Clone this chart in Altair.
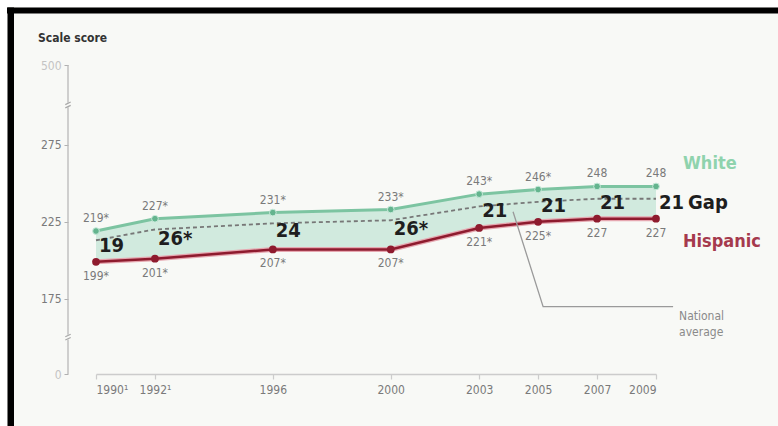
import altair as alt
import pandas as pd

# NAEP grade 4 mathematics: average scale scores by group
years = [1990, 1992, 1996, 2000, 2003, 2005, 2007, 2009]
white = [219, 227, 231, 233, 243, 246, 248, 248]
hispanic = [199, 201, 207, 207, 221, 225, 227, 227]
national = [213, 220, 224, 226, 235, 238, 240, 240]
gap = [19, 26, 24, 26, 21, 21, 21, 21]
gap_flag = ["", "*", "", "*", "", "", "", ""]
white_flag = ["*", "*", "*", "*", "*", "*", "", ""]
hisp_flag = ["*", "*", "*", "*", "*", "*", "", ""]

year_labels = ["1990¹", "1992¹", "1996", "2000", "2003", "2005", "2007", "2009"]

# broken score axis: 0 ... 175-275 ... 500
y_ticks = [126, 175, 225, 275, 327]
y_tick_labels = ["0", "175", "225", "275", "500"]
y_segments_lo = [126, 151.5, 302.5]
y_segments_hi = [148.5, 299.5, 327]
y_breaks = [150, 301]

# leader line for the "National average" note
callout_years = [2004.15, 2005.17, 2009.58]
callout_values = [231.5, 169.8, 169.8]

FONT = "DejaVu Sans Condensed, Liberation Sans Narrow, DejaVu Sans, sans-serif"
BG = "#f8f9f6"
TEAL = "#7cc4a1"
TEAL_DOT = "#64b48e"
RED = "#8e1b2e"
PINK = "#e6a7b0"
GREY = "#7a7a7a"

W, H = 560, 309

df = pd.DataFrame({
    "year": years,
    "white": white,
    "hispanic": hispanic,
    "national": national,
    "mid": [(a + b) / 2 for a, b in zip(white, hispanic)],
    "gap_label": [f"{g}{f}" for g, f in zip(gap, gap_flag)],
    "white_label": [f"{v}{f}" for v, f in zip(white, white_flag)],
    "hisp_label": [f"{v}{f}" for v, f in zip(hispanic, hisp_flag)],
})


def ternary(values, labels, fallback):
    expr = fallback
    for v, lab in reversed(list(zip(values, labels))):
        expr = f"datum.value == {v} ? '{lab}' : ({expr})"
    return expr


x_scale = alt.Scale(domain=[1990, 2009], nice=False, zero=False)
y_scale = alt.Scale(domain=[126, 327], nice=False, zero=False)

x_axis = alt.Axis(
    values=years,
    labelExpr=ternary(years, year_labels, "''"),
    domainColor="#cccccc", domainWidth=1.5,
    tickColor="#cccccc", tickSize=5, tickWidth=1.2,
    labelColor=GREY, labelFont=FONT, labelFontSize=12, labelPadding=5,
    grid=False, title=None,
)
y_axis = alt.Axis(
    values=y_ticks,
    labelExpr=ternary(y_ticks, y_tick_labels, "''"),
    domain=False, offset=28,
    tickColor="#b0b0b0", tickSize=4,
    labelColor=alt.condition("datum.value > 300 || datum.value < 150",
                             alt.value("#c4c4c4"), alt.value(GREY)),
    labelFont=FONT, labelFontSize=12, labelPadding=3,
    grid=False, title=None,
)

X = alt.X("year:Q", scale=x_scale, axis=x_axis, title=None)


def Y(field):
    return alt.Y(f"{field}:Q", scale=y_scale, axis=y_axis, title=None)


base = alt.Chart(df)

band = base.mark_area(color="#cfe9dc", opacity=0.95).encode(
    x=X, y=Y("white"), y2="hispanic:Q"
)
nat_line = base.mark_line(color="#777777", strokeDash=[4, 3], strokeWidth=1.8).encode(
    x=X, y=Y("national")
)
white_line = base.mark_line(color=TEAL, strokeWidth=3).encode(x=X, y=Y("white"))
white_pts = base.mark_circle(color=TEAL_DOT, size=45, opacity=1,
                             stroke="#c9eadb", strokeWidth=1).encode(x=X, y=Y("white"))
hisp_halo = base.mark_line(color=PINK, strokeWidth=5).encode(x=X, y=Y("hispanic"))
hisp_line = base.mark_line(color=RED, strokeWidth=2.5).encode(x=X, y=Y("hispanic"))
hisp_pts = base.mark_circle(color=RED, size=60, opacity=1).encode(x=X, y=Y("hispanic"))

white_txt = base.mark_text(font=FONT, fontSize=12, color=GREY, dy=-13).encode(
    x=X, y=Y("white"), text="white_label:N"
)
hisp_txt = base.mark_text(font=FONT, fontSize=12, color=GREY, dy=14).encode(
    x=X, y=Y("hispanic"), text="hisp_label:N"
)
gap_txt = base.mark_text(font=FONT, fontSize=20, fontWeight="bold", color="#1e1e1e",
                         align="left", baseline="middle", dx=3).encode(
    x=X, y=Y("mid"), text="gap_label:N"
)

# series names at the right end
last = pd.DataFrame({"year": [years[-1]], "white": [white[-1]],
                     "hispanic": [hispanic[-1]], "mid": [(white[-1] + hispanic[-1]) / 2]})
lbl = alt.Chart(last)
white_name = lbl.mark_text(font=FONT, fontSize=18, fontWeight="bold", color="#8fd3ad",
                           align="left", dx=27, dy=-22).encode(
    x=X, y=Y("white"), text=alt.value("White")
)
gap_name = lbl.mark_text(font=FONT, fontSize=20, fontWeight="bold", color="#1e1e1e",
                         align="left", baseline="middle", dx=32).encode(
    x=X, y=Y("mid"), text=alt.value("Gap")
)
hisp_name = lbl.mark_text(font=FONT, fontSize=18, fontWeight="bold", color="#a53a4d",
                          align="left", dx=27, dy=23).encode(
    x=X, y=Y("hispanic"), text=alt.value("Hispanic")
)

callout_df = pd.DataFrame({"year": callout_years, "v": callout_values,
                           "o": list(range(len(callout_years)))})
callout = alt.Chart(callout_df).mark_line(color="#9a9a9a", strokeWidth=1.3).encode(
    x=X, y=Y("v"), order="o:Q"
)
callout_txt = alt.Chart(callout_df.tail(1)).mark_text(
    font=FONT, fontSize=12, color="#8a8a8a", align="left", baseline="middle",
    dx=6, lineHeight=16, dy=9,
).encode(x=X, y=Y("v"), text=alt.value(["National", "average"]))

# score axis drawn in pieces with break marks
seg_df = pd.DataFrame({"lo": y_segments_lo, "hi": y_segments_hi})
y_line = alt.Chart(seg_df).mark_rule(color="#b8b8b8", strokeWidth=1.3).encode(
    x=alt.value(-28), y=Y("lo"), y2="hi:Q"
)
brk_df = pd.DataFrame({"b": y_breaks})
y_brk = alt.Chart(brk_df).mark_point(
    shape="M -0.7 -0.1 L 0.7 -0.75 M -0.7 0.75 L 0.7 0.1",
    size=60, filled=False, color="#a8a8a8", strokeWidth=1.2, opacity=1,
).encode(x=alt.value(-28), y=Y("b"))

title_txt = alt.Chart(last).mark_text(
    font=FONT, fontSize=12, fontWeight="bold", color="#333333",
    align="left", baseline="middle",
).encode(x=alt.value(-58), y=alt.value(-27), text=alt.value("Scale score"))

# framed panel: white margin and black frame on the top and left
one = pd.DataFrame({"k": [0]})
frame = alt.Chart(one)
white_top = frame.mark_rect(color="#ffffff").encode(
    x=alt.value(-96), x2=alt.value(682), y=alt.value(-65), y2=alt.value(-58))
white_left = frame.mark_rect(color="#ffffff").encode(
    x=alt.value(-96), x2=alt.value(-89), y=alt.value(-65), y2=alt.value(361))
black_top = frame.mark_rect(color="#000000").encode(
    x=alt.value(-89), x2=alt.value(682), y=alt.value(-57.5), y2=alt.value(-51.5))
black_left = frame.mark_rect(color="#000000").encode(
    x=alt.value(-88.5), x2=alt.value(-82), y=alt.value(-57.5), y2=alt.value(361))

chart = alt.layer(
    white_top, white_left, black_top, black_left,
    band, nat_line, hisp_halo, hisp_line, white_line, white_pts, hisp_pts,
    white_txt, hisp_txt, gap_txt, white_name, gap_name, hisp_name,
    callout, callout_txt, y_line, y_brk, title_txt,
).properties(
    width=W, height=H, padding=0, background=BG,
    autosize=alt.AutoSizeParams(type="pad"),
).configure_view(stroke=None)

chart.save("out.html", embed_options={"renderer": "svg", "actions": False})
